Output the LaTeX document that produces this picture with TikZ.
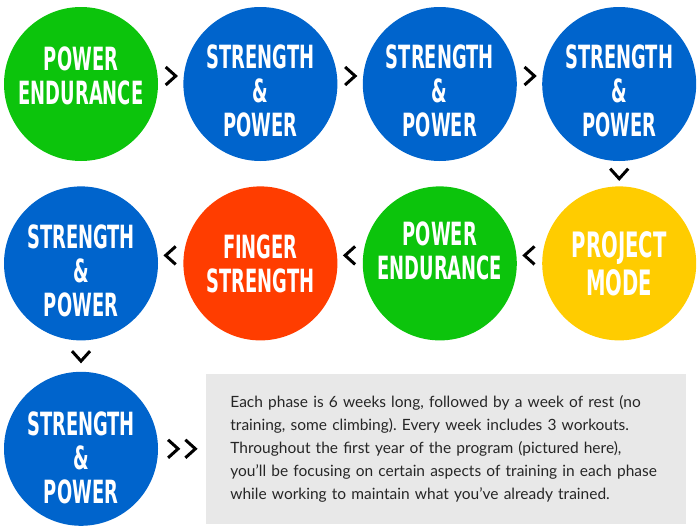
\documentclass[tikz,border=0pt]{standalone}
\usepackage{fontspec}
\setmainfont{Lato}
\newfontfamily\titulofont[FakeStretch=0.56]{DejaVu Sans}
\usetikzlibrary{positioning}
\definecolor{verde}{HTML}{0CC40C}
\definecolor{azul}{HTML}{0064CC}
\definecolor{rojo}{HTML}{FF3D00}
\definecolor{amarillo}{HTML}{FFCC00}
\definecolor{gris}{HTML}{E8E8E8}
% huecos invisibles para subir o bajar el texto dentro del circulo
\newcommand{\alto}[1]{\rule{0pt}{#1}}
\newcommand{\hondo}[1]{\rule[-#1]{0pt}{#1}}
\tikzset{
	fase/.style={circle, minimum size=154pt, inner sep=0pt, text=white,
		font=\titulofont\bfseries\fontsize{32}{34}\selectfont, align=center},
	nota/.style={rectangle, fill=gris, minimum width=480pt, minimum height=150pt,
		text width=432pt, inner xsep=24pt, align=left, text=black!85,
		font=\fontsize{15.5}{23}\selectfont},
	flecha/.pic={\draw[line width=3pt, line join=miter] (-5,9) -- (5,0) -- (-5,-9);}
}
\frenchspacing

\begin{document}
\begin{tikzpicture}[x=1pt, y=1pt, node distance=25pt]
	\useasboundingbox (0,0) rectangle (700,-530);
	
	\node[fase, fill=verde] (pe1) at (81,-84) {POWER\\ENDURANCE\hondo{16pt}};
	\node[fase, fill=azul, right=of pe1] (sp1) {\alto{38pt}STRENGTH\\\&\\POWER};
	\node[fase, fill=azul, right=of sp1] (sp2) {\alto{38pt}STRENGTH\\\&\\POWER};
	\node[fase, fill=azul, right=of sp2] (sp3) {\alto{38pt}STRENGTH\\\&\\POWER};
	
	\node[fase, fill=amarillo, below=of sp3,
		font=\titulofont\bfseries\fontsize{35}{38}\selectfont] (pm) {PROJECT\\MODE};
	\node[fase, fill=verde, left=of pm] (pe2) {POWER\\ENDURANCE\hondo{26pt}};
	\node[fase, fill=rojo, left=of pe2] (fs) {FINGER\\STRENGTH};
	\node[fase, fill=azul, left=of fs] (sp4) {\alto{38pt}STRENGTH\\\&\\POWER};
	
	\node[fase, fill=azul, below=31pt of sp4] (sp5) {\alto{41pt}STRENGTH\\\&\\POWER};
	\node[nota, right=48pt of sp5] (nota) {Each phase is 6 weeks long, followed by a week of rest (no\\
		training, some climbing). Every week includes 3 workouts.\\
		Throughout the first year of the program (pictured here),\\
		you'll be focusing on certain aspects of training in each phase\\
		while working to maintain what you've already trained.};
	
	\path (pe1) -- (sp1) pic[midway, yshift=8pt] {flecha};
	\path (sp1) -- (sp2) pic[midway, yshift=8pt] {flecha};
	\path (sp2) -- (sp3) pic[midway, yshift=8pt] {flecha};
	\path (sp3) -- (pm) pic[midway, rotate=-90] {flecha};
	\path (pm) -- (pe2) pic[midway, yshift=8pt, rotate=180] {flecha};
	\path (pe2) -- (fs) pic[midway, yshift=8pt, rotate=180] {flecha};
	\path (fs) -- (sp4) pic[midway, yshift=8pt, rotate=180] {flecha};
	\path (sp4) -- (sp5) pic[midway, rotate=-90] {flecha};
	\path (sp5.east) -- (nota.west) pic[pos=0.31] {flecha} pic[pos=0.67] {flecha};
\end{tikzpicture}
\end{document}
